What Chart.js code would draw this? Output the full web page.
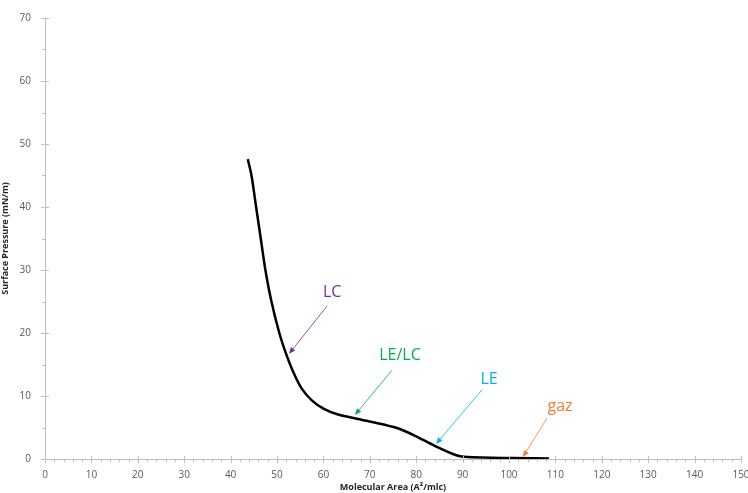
<!DOCTYPE html>
<html>
<head>
<meta charset="utf-8">
<script src="https://cdn.jsdelivr.net/npm/chart.js@4/dist/chart.umd.min.js"></script>
<style>
  html, body { margin: 0; padding: 0; background: #fff; }
  #wrap { width: 748px; height: 493px; }
</style>
</head>
<body>
<div id="wrap"><canvas id="grafico" width="748" height="493"></canvas></div>
<script>
// isotherm
const area = [43.7, 44.5, 45.5, 46.5, 47.5, 48.8, 50.5, 52.0, 53.5, 55.3, 57.5, 60.0, 63.0, 67.2, 72.2, 75.5, 77.0, 80.0, 84.0, 88.8, 91.0, 100.9, 108.6];
const pression = [47.6, 45.0, 40.0, 35.0, 30.0, 25.0, 20.0, 16.6, 13.8, 11.2, 9.3, 8.0, 7.1, 6.4, 5.6, 5.0, 4.6, 3.6, 2.1, 0.55, 0.3, 0.15, 0.08];

const etiquetas = ['LC', 'LE/LC', 'LE', 'gaz'];
const colores = ['#7030A0', '#00B050', '#00B0F0', '#ED7D31'];

// text spot, arrow tail, arrow head (data units)
const textoX = [61.9, 76.5, 95.7, 111.0];
const textoY = [26.5, 16.5, 12.7, 8.3];
const colaX = [60.8, 74.8, 94.2, 108.2];
const colaY = [24.3, 14.1, 11.0, 6.5];
const puntaX = [52.6, 66.8, 84.3, 103.0];
const puntaY = [16.7, 7.0, 2.4, 0.3];

const puntos = area.map((a, i) => ({ x: a, y: pression[i] }));

const ejeColor = '#bfbfbf';

const marcas = {
    id: 'marcas',
    afterDraw(chart) {
        const ctx = chart.ctx;
        const sx = chart.scales.x, sy = chart.scales.y;
        const a = chart.chartArea;
        ctx.save();
        ctx.strokeStyle = ejeColor;
        ctx.lineWidth = 1;
        ctx.beginPath();
        // axis lines
        ctx.moveTo(a.left, a.bottom + 0.5); ctx.lineTo(a.right, a.bottom + 0.5);
        ctx.moveTo(a.left + 0.5, a.top); ctx.lineTo(a.left + 0.5, a.bottom);
        for (let v = 0; v <= 150; v += 2) {
            const px = Math.round(sx.getPixelForValue(v)) + 0.5;
            if (v % 10 === 0) { ctx.moveTo(px, a.bottom - 3); ctx.lineTo(px, a.bottom + 4); }
            else { ctx.moveTo(px, a.bottom); ctx.lineTo(px, a.bottom + 3); }
        }
        for (let v = 0; v <= 70; v += 5) {
            const py = Math.round(sy.getPixelForValue(v)) + 0.5;
            if (v % 10 === 0) { ctx.moveTo(a.left - 4, py); ctx.lineTo(a.left + 4, py); }
            else { ctx.moveTo(a.left - 3, py); ctx.lineTo(a.left, py); }
        }
        ctx.stroke();

        // annotations
        ctx.font = '16px "Open Sans", sans-serif';
        ctx.textAlign = 'center';
        ctx.textBaseline = 'middle';
        etiquetas.forEach((t, i) => {
            const c = colores[i];
            ctx.fillStyle = c;
            ctx.fillText(t, sx.getPixelForValue(textoX[i]), sy.getPixelForValue(textoY[i]));
            const x1 = sx.getPixelForValue(colaX[i]), y1 = sy.getPixelForValue(colaY[i]);
            const x2 = sx.getPixelForValue(puntaX[i]), y2 = sy.getPixelForValue(puntaY[i]);
            const ang = Math.atan2(y2 - y1, x2 - x1);
            ctx.strokeStyle = c;
            ctx.lineWidth = 0.8;
            ctx.beginPath();
            ctx.moveTo(x1, y1);
            ctx.lineTo(x2 - 5 * Math.cos(ang), y2 - 5 * Math.sin(ang));
            ctx.stroke();
            ctx.beginPath();
            ctx.moveTo(x2, y2);
            ctx.lineTo(x2 - 7 * Math.cos(ang - 0.4), y2 - 7 * Math.sin(ang - 0.4));
            ctx.lineTo(x2 - 7 * Math.cos(ang + 0.4), y2 - 7 * Math.sin(ang + 0.4));
            ctx.closePath();
            ctx.fill();
        });
        ctx.restore();
    }
};

const ctx = document.getElementById('grafico');
const miGrafico = new Chart(ctx, {
    type: 'scatter',
    data: {
        datasets: [{
            data: puntos,
            showLine: true,
            borderColor: '#000',
            borderWidth: 2.5,
            pointRadius: 0,
            tension: 0.3
        }]
    },
    options: {
        responsive: false,
        animation: false,
        layout: { padding: { top: 18, right: 7, left: 0, bottom: 0 } },
        plugins: { legend: { display: false }, tooltip: { enabled: false } },
        scales: {
            x: {
                type: 'linear',
                min: 0, max: 150,
                border: { display: false },
                grid: { display: false },
                ticks: { stepSize: 10, color: '#595959', font: { family: 'Open Sans', size: 10 }, padding: 2, maxRotation: 0 },
                title: { display: true, text: 'Molecular Area (A²/mlc)', color: '#262626', font: { family: 'Open Sans', size: 9, weight: 'bold' }, padding: { top: 0, bottom: 0 } },
                afterFit(scale) { scale.height = 34; scale.paddingRight = 0; scale.paddingLeft = 0; }
            },
            y: {
                min: 0, max: 70,
                border: { display: false },
                grid: { display: false },
                ticks: { stepSize: 10, color: '#595959', font: { family: 'Open Sans', size: 10 }, padding: 6 },
                title: { display: true, text: 'Surface Pressure (mN/m)', color: '#262626', font: { family: 'Open Sans', size: 9, weight: 'bold' }, padding: { top: 0, bottom: 4 } },
                afterFit(scale) { scale.width = 45; scale.paddingTop = 0; scale.paddingBottom = 0; }
            }
        }
    },
    plugins: [marcas]
});
</script>
</body>
</html>
